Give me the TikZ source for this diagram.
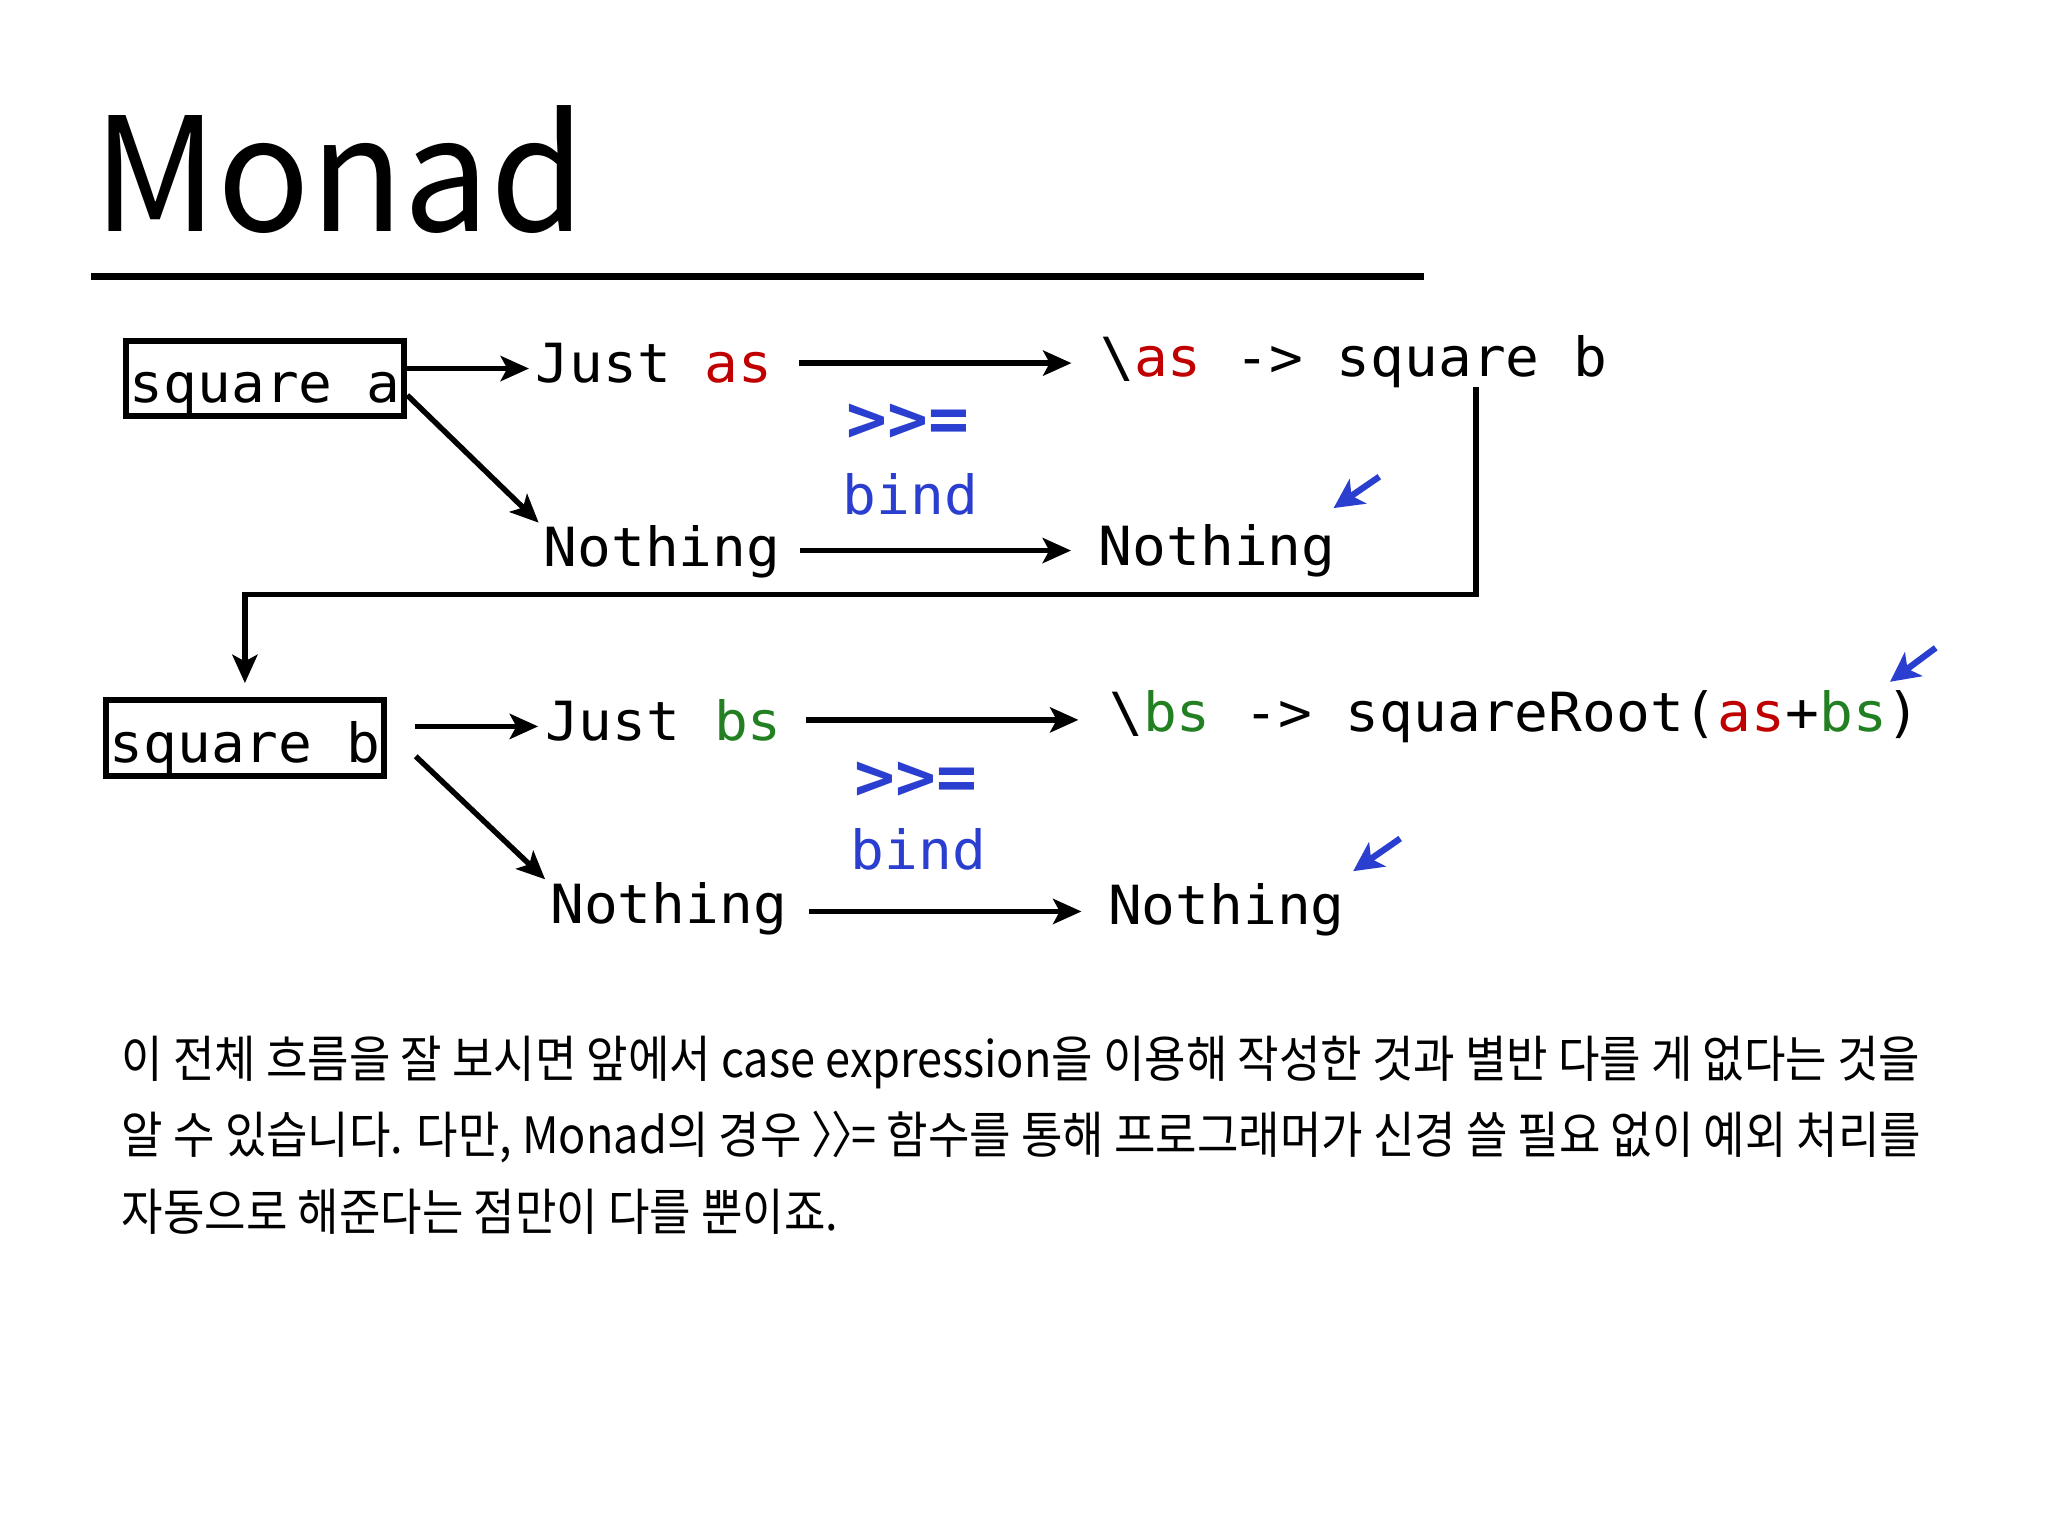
\documentclass[tikz,border=0pt]{standalone}
\usepackage{fontspec}
\usetikzlibrary{arrows.meta}
\newfontfamily\codefont[FakeStretch=1.04]{DejaVu Sans Mono}
\newfontfamily\krfont[FakeStretch=0.9]{Noto Sans CJK KR}
\newfontfamily\titlefont[FakeStretch=0.968]{Noto Sans CJK KR}
\definecolor{kred}{RGB}{192,0,0}
\definecolor{kgreen}{RGB}{34,128,34}
\definecolor{kblue}{RGB}{42,62,208}
\begin{document}
\begin{tikzpicture}[x=0.6pt,y=-0.6pt,
  code/.style={font=\codefont\fontsize{24.8pt}{28pt}\selectfont, inner sep=0pt,
    text height=18pt, text depth=5pt, anchor=base west},
  codebox/.style={font=\codefont\fontsize{24.8pt}{28pt}\selectfont, inner sep=0pt,
    text height=22.2pt, text depth=0pt, draw, line width=2.75pt,
    minimum width=127.8pt, minimum height=34.5pt, anchor=center},
  bindop/.style={font=\codefont\bfseries\fontsize{30pt}{32pt}\selectfont, text=kblue, inner sep=0pt, anchor=center},
  bindtxt/.style={font=\codefont\fontsize{24.8pt}{28pt}\selectfont, text=kblue, inner sep=0pt, anchor=base},
  arr/.style={line width=2.5pt, -{Stealth[length=13pt,width=11.5pt,inset=3pt]}},
  barr/.style={draw=kblue, line width=2.9pt, -{Stealth[length=13.5pt,width=13.5pt,inset=3.5pt]}},
  para/.style={font=\krfont\fontsize{23pt}{28pt}\selectfont, inner sep=0pt, anchor=base west},
]
\useasboundingbox[fill=white] (0,0) rectangle (1568,1176);

% title
\node[font=\titlefont\fontsize{72.7pt}{80pt}\selectfont, inner sep=0pt, anchor=base west] (title) at (71,177.6) {Monad};
\draw[line width=3.2pt] (70,211.7) coordinate (ulL) -- (1090,211.7) coordinate (ulR);

% row 1
\node[codebox] (sqa) at (203,289.5) {square a};
\node[code] (justa) at (410,293) {Just \textcolor{kred}{as}};
\node[code] (lama) at (842,288) {\textbackslash\textcolor{kred}{as} -> square b};
\node[code] (nothinga) at (416,434) {Nothing};
\node[code] (nothingb) at (841,433) {Nothing};
\node[bindop] (bop1) at (695,324) {>>=};
\node[bindtxt] (bind1) at (697,394) {bind};

\draw[arr, shorten >=3pt] (sqa.east |- justa.west) -- (justa.west);
\draw[arr, shorten >=3pt] ([yshift=10.8pt]sqa.south east) -- (nothinga.north west);
\draw[arr, shorten <=12pt, shorten >=13pt] ([yshift=2.5pt]justa.east) -- ([yshift=2.5pt]justa.east -| lama.west);
\draw[arr, shorten <=8.6pt, shorten >=12.6pt] ([yshift=1pt]nothinga.east) -- ([yshift=1pt]nothinga.east -| nothingb.west);

\coordinate (bend) at (1130,455);
\draw[arr, shorten >=8.4pt] (bend |- lama.south) -- (bend) -| (187.5,537) coordinate (sqbtop);

\coordinate (ba1t) at (1056,365);
\coordinate (ba1h) at (1021,389);
\draw[barr] (ba1t) -- (ba1h);

% row 2
\node[codebox] (sqb) at (187.5,565) {square b};
\node[code] (justb) at (417,567) {Just \textcolor{kgreen}{bs}};
\node[code] (lamb) at (849,560) {\textbackslash\textcolor{kgreen}{bs} -> squareRoot(\textcolor{kred}{as}+\textcolor{kgreen}{bs})};
\node[code] (nothingc) at (421,707) {Nothing};
\node[code] (nothingd) at (848,708) {Nothing};
\node[bindop] (bop2) at (701,598) {>>=};
\node[bindtxt] (bind2) at (703,666) {bind};

\draw[arr, shorten <=13pt, shorten >=3pt] (sqb.east |- justb.west) -- (justb.west);
\draw[arr, shorten >=3pt] ([xshift=13.2pt,yshift=10.2pt]sqb.south east) -- (nothingc.north west);
\draw[arr, shorten <=11pt, shorten >=14pt] ([yshift=3pt]justb.east) -- ([yshift=3pt]justb.east -| lamb.west);
\draw[arr, shorten <=10pt, shorten >=12pt] ([yshift=-1pt]nothingc.east) -- ([yshift=-1pt]nothingc.east -| nothingd.west);

\coordinate (ba2t) at (1482,496);
\coordinate (ba2h) at (1447,522);
\draw[barr] (ba2t) -- (ba2h);
\coordinate (ba3t) at (1072,642);
\coordinate (ba3h) at (1036,667);
\draw[barr] (ba3t) -- (ba3h);

% paragraph
\node[para] (p1) at (93,825) {이 전체 흐름을 잘 보시면 앞에서 case expression을 이용해 작성한 것과 별반 다를 게 없다는 것을};
\node[para] (p2) at (93,883) {알 수 있습니다. 다만, Monad의 경우 〉\kern-0.5em〉\kern-0.5em= 함수를 통해 프로그래머가 신경 쓸 필요 없이 예외 처리를};
\node[para] (p3) at (93,942) {자동으로 해준다는 점만이 다를 뿐이죠.};
\end{tikzpicture}
\end{document}
